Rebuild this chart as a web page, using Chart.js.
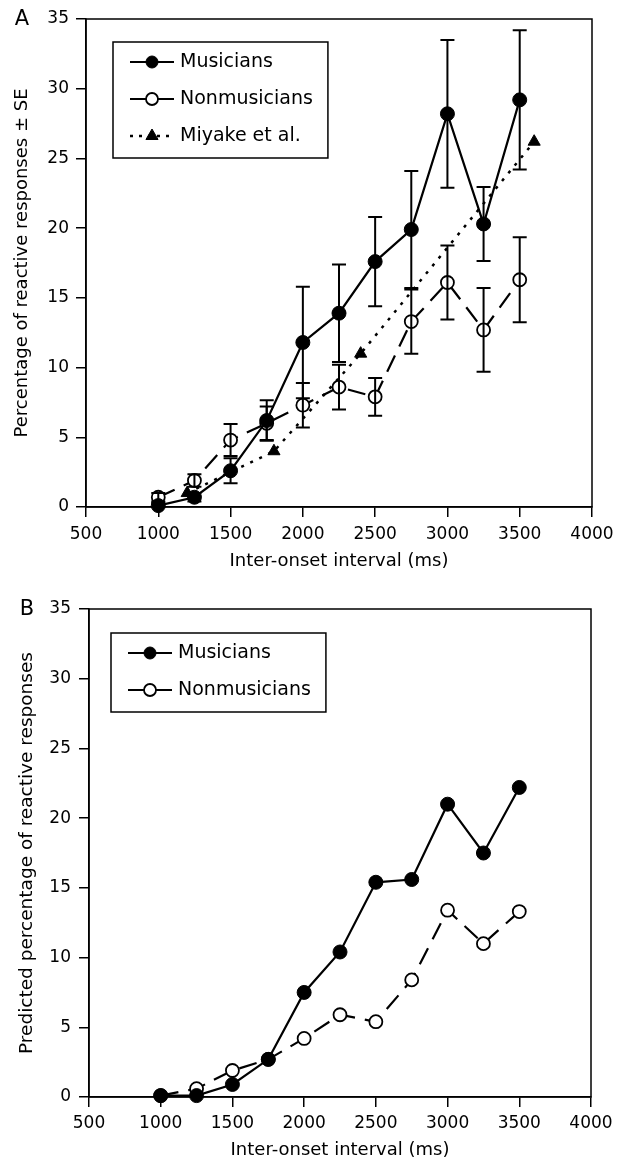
<!DOCTYPE html>
<html>
<head>
<meta charset="utf-8">
<script src="https://cdn.jsdelivr.net/npm/chart.js@4.4.1/dist/chart.umd.min.js"></script>
<style>
  body { margin: 0; background: #fff; }
  canvas { display: block; }
</style>
</head>
<body>
<canvas id="chartA" width="628" height="580"></canvas>
<canvas id="chartB" width="628" height="581"></canvas>
<script>
// inter-onset intervals (ms) shared by both panels
const ioi = [1000, 1250, 1500, 1750, 2000, 2250, 2500, 2750, 3000, 3250, 3500];

// panel A: observed, with standard errors
const musiciansA = [0.1, 0.7, 2.6, 6.2, 11.8, 13.9, 17.6, 19.9, 28.2, 20.3, 29.2];
const musiciansSE = [0.2, 0.3, 0.9, 1.45, 4.0, 3.5, 3.2, 4.2, 5.3, 2.65, 5.0];
const nonmusiciansA = [0.7, 1.9, 4.8, 6.0, 7.3, 8.6, 7.9, 13.3, 16.1, 12.7, 16.3];
const nonmusiciansSE = [0.3, 0.45, 1.15, 1.2, 1.6, 1.6, 1.35, 2.3, 2.65, 3.0, 3.05];
const miyakeIoi = [1200, 1800, 2400, 3600];
const miyake = [1.0, 4.0, 11.0, 26.2];

// panel B: predicted
const musiciansB = [0.1, 0.1, 0.9, 2.7, 7.5, 10.4, 15.4, 15.6, 21.0, 17.5, 22.2];
const nonmusiciansB = [0.1, 0.6, 1.9, 2.7, 4.2, 5.9, 5.4, 8.4, 13.4, 11.0, 13.3];

const xTicks = [500, 1000, 1500, 2000, 2500, 3000, 3500, 4000];
const yTicks = [0, 5, 10, 15, 20, 25, 30, 35];

Chart.defaults.font.family = '"DejaVu Sans", sans-serif';
Chart.defaults.color = '#000';

function toPoints(xs, ys) {
    return xs.map(function (x, i) { return { x: x, y: ys[i] }; });
}

// vertical bars with caps, drawn on top of the markers like in the print
const errorBarPlugin = {
    id: 'errorBars',
    afterDatasetsDraw(chart) {
        const ctx = chart.ctx, y = chart.scales.y;
        chart.data.datasets.forEach(function (ds, i) {
            if (!ds.errorBars) return;
            const meta = chart.getDatasetMeta(i);
            ctx.save();
            ctx.strokeStyle = '#000';
            ctx.lineWidth = 2;
            ctx.setLineDash([]);
            meta.data.forEach(function (pt, j) {
                const v = ds.data[j].y, e = ds.errorBars[j];
                const top = y.getPixelForValue(v + e);
                const bot = y.getPixelForValue(Math.max(v - e, 0));
                ctx.beginPath();
                ctx.moveTo(pt.x, top); ctx.lineTo(pt.x, bot);
                ctx.moveTo(pt.x - 7, top); ctx.lineTo(pt.x + 7, top);
                ctx.moveTo(pt.x - 7, bot); ctx.lineTo(pt.x + 7, bot);
                ctx.stroke();
            });
            ctx.restore();
        });
    }
};

// box round the plot, panel letter and the boxed legend inside the plot
const framePlugin = {
    id: 'frame',
    beforeDatasetsDraw(chart) {
        const { ctx, chartArea: a } = chart;
        ctx.save();
        ctx.strokeStyle = '#000';
        ctx.lineWidth = 1.5;
        ctx.strokeRect(a.left, a.top, a.right - a.left, a.bottom - a.top);
        ctx.restore();
    },
    afterDraw(chart, args, opts) {
        const ctx = chart.ctx;
        ctx.save();
        ctx.fillStyle = '#000';
        ctx.font = '21px "DejaVu Sans"';
        ctx.textAlign = 'center';
        ctx.textBaseline = 'middle';
        ctx.fillText(opts.letter, opts.letterX, opts.letterY);

        const items = chart.data.datasets;
        const lx = opts.legendX, ly = opts.legendY;
        ctx.font = '19px "DejaVu Sans"';
        let maxW = 0;
        items.forEach(function (ds) { maxW = Math.max(maxW, ctx.measureText(ds.label).width); });
        const w = 67 + maxW + 15, h = 20 + (items.length - 1) * 37 + 22;
        ctx.strokeStyle = '#000';
        ctx.lineWidth = 1.5;
        ctx.setLineDash([]);
        ctx.strokeRect(lx, ly, w, h);

        items.forEach(function (ds, i) {
            const ry = ly + 20 + i * 37;
            ctx.setLineDash(ds.legendDash || []);
            ctx.lineWidth = ds.borderWidth;
            ctx.beginPath();
            ctx.moveTo(lx + 17, ry);
            ctx.lineTo(lx + 61, ry);
            ctx.stroke();
            ctx.setLineDash([]);
            ctx.lineWidth = ds.pointBorderWidth;
            ctx.fillStyle = ds.pointBackgroundColor;
            ctx.strokeStyle = ds.pointBorderColor;
            Chart.helpers.drawPoint(ctx, {
                pointStyle: ds.pointStyle, radius: ds.legendRadius,
                rotation: 0, borderWidth: ds.pointBorderWidth
            }, lx + 39, ry);
            ctx.fillStyle = '#000';
            ctx.strokeStyle = '#000';
            ctx.textAlign = 'left';
            ctx.fillText(ds.label, lx + 67, ry);
        });
        ctx.restore();
    }
};

function musiciansSet(ys, se) {
    return {
        label: 'Musicians', data: toPoints(ioi, ys), errorBars: se,
        showLine: true, clip: false,
        borderColor: '#000', borderWidth: 2.2,
        pointStyle: 'circle', pointRadius: 7, legendRadius: 6,
        pointBackgroundColor: '#000', pointBorderColor: '#000', pointBorderWidth: 1
    };
}

function nonmusiciansSet(ys, se) {
    return {
        label: 'Nonmusicians', data: toPoints(ioi, ys), errorBars: se,
        showLine: true, clip: false,
        borderColor: '#000', borderWidth: 2.2, borderDash: [18, 10],
        pointStyle: 'circle', pointRadius: 6.5, legendRadius: 6,
        pointBackgroundColor: '#fff', pointBorderColor: '#000', pointBorderWidth: 1.8
    };
}

function makeChart(id, datasets, cfg) {
    return new Chart(document.getElementById(id), {
        type: 'scatter',
        data: { datasets: datasets },
        plugins: [framePlugin, errorBarPlugin],
        options: {
            responsive: false,
            animation: false,
            devicePixelRatio: 1,
            layout: { padding: { top: cfg.top, right: cfg.right, left: 0, bottom: 0 } },
            scales: {
                x: {
                    type: 'linear', min: 500, max: 4000,
                    afterFit: function (s) { s.height = cfg.axisHeight; },
                    afterBuildTicks: function (s) { s.ticks = xTicks.map(function (v) { return { value: v }; }); },
                    ticks: { font: { size: 17 }, padding: cfg.xTickPad, callback: function (v) { return String(v); } },
                    grid: { drawOnChartArea: false, color: '#000', lineWidth: 1.5, tickLength: 10 },
                    border: { color: '#000', width: 1.5 },
                    title: { display: true, text: 'Inter-onset interval (ms)', font: { size: 18 }, padding: { top: 0, bottom: cfg.xTitlePad } }
                },
                y: {
                    type: 'linear', min: 0, max: 35,
                    afterFit: function (s) { s.width = cfg.axisWidth; },
                    afterBuildTicks: function (s) { s.ticks = yTicks.map(function (v) { return { value: v }; }); },
                    ticks: { font: { size: 17 }, padding: cfg.yTickPad },
                    grid: { drawOnChartArea: false, color: '#000', lineWidth: 1.5, tickLength: 10 },
                    border: { color: '#000', width: 1.5 },
                    title: { display: true, text: cfg.yTitle, font: { size: cfg.yTitleSize }, padding: { top: cfg.yTitlePad, bottom: 0 } }
                }
            },
            plugins: {
                legend: { display: false },
                tooltip: { enabled: false },
                frame: cfg.frame
            }
        }
    });
}

makeChart('chartA', [
    musiciansSet(musiciansA, musiciansSE),
    nonmusiciansSet(nonmusiciansA, nonmusiciansSE),
    {
        label: 'Miyake et al.', data: toPoints(miyakeIoi, miyake),
        showLine: true, clip: false,
        borderColor: '#000', borderWidth: 2.5, borderDash: [3, 7], legendDash: [3, 6],
        pointStyle: 'triangle', pointRadius: 7, legendRadius: 7,
        pointBackgroundColor: '#000', pointBorderColor: '#000', pointBorderWidth: 1
    }
], {
    top: 19, right: 36, axisWidth: 86, axisHeight: 73,
    xTickPad: 7, yTickPad: 7, xTitlePad: 8,
    yTitle: 'Percentage of reactive responses \u00b1 SE', yTitleSize: 18, yTitlePad: 12,
    frame: { letter: 'A', letterX: 22, letterY: 20, legendX: 113, legendY: 42 }
});

makeChart('chartB', [
    musiciansSet(musiciansB, null),
    nonmusiciansSet(nonmusiciansB, null)
], {
    top: 29, right: 37, axisWidth: 89, axisHeight: 64,
    xTickPad: 6, yTickPad: 8, xTitlePad: 0,
    yTitle: 'Predicted percentage of reactive responses', yTitleSize: 18.5, yTitlePad: 16,
    frame: { letter: 'B', letterX: 27, letterY: 30, legendX: 111, legendY: 53 }
});
</script>
</body>
</html>
